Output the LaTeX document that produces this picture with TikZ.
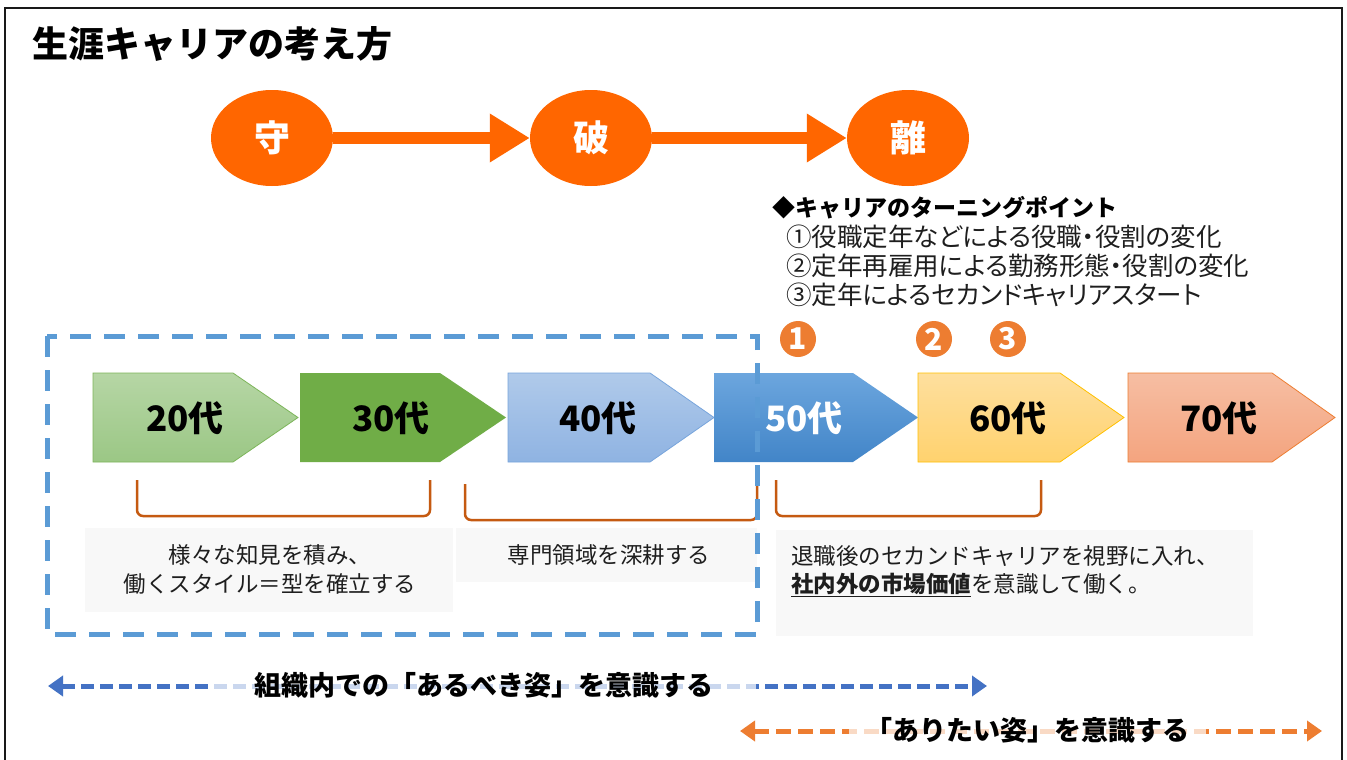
\documentclass[tikz,border=0pt]{standalone}
\usepackage{fontspec}
\setmainfont{Noto Sans CJK JP}
\newfontfamily\jpprop{Noto Sans CJK JP}[RawFeature=+palt]
\usetikzlibrary{arrows.meta,shapes.geometric}
\definecolor{kaki}{HTML}{FF6600}
\definecolor{numor}{HTML}{ED7D31}
\definecolor{brk}{HTML}{C55A11}
\definecolor{dashblue}{HTML}{5B9BD5}
\definecolor{arrblue}{HTML}{4472C4}
\definecolor{arror}{HTML}{ED7D31}
\definecolor{boxgray}{HTML}{F8F8F8}
\definecolor{txt}{HTML}{1E1E1E}
\begin{document}
\begin{tikzpicture}[x=1pt,y=-1pt,
  bigcirc/.style={ellipse, fill=kaki, minimum width=122pt, minimum height=96pt, inner sep=0pt, text=white, font=\fontsize{36}{36}\selectfont\bfseries},
  kakiarrow/.style={draw=kaki, line width=12pt, -{Triangle[length=40pt,width=46pt]}},
  numcirc/.style={circle, fill=numor, minimum size=36pt, inner sep=0pt, text=white, font=\fontsize{30}{30}\selectfont\bfseries},
  chevtext/.style={inner sep=0pt, font=\fontsize{35}{35}\selectfont\bfseries},
  bracket/.style={draw=brk, line width=2.5pt, rounded corners=6pt},
  graybox/.style={fill=boxgray, draw=none},
  boxtext/.style={inner sep=0pt, text=txt, font=\fontsize{22.5}{22.5}\selectfont},
  tptext/.style={inner sep=0pt, anchor=west, text=txt, font=\jpprop\fontsize{25.5}{25.5}\selectfont},
  labelbox/.style={fill=white, fill opacity=0.72, text opacity=1, inner sep=0pt, text=black, font=\fontsize{27}{27}\selectfont\bfseries}
]
\useasboundingbox (0,0) rectangle (1347,760);
\fill[white] (0,0) rectangle (1347,760);
% frame
\draw[line width=2pt, black!90] (5,762) -- (5,8) -- (1342,8) -- (1342,762);

% title
\node[anchor=west, inner sep=0pt, font=\fontsize{36}{36}\selectfont\bfseries] (title) at (32,44) {生涯キャリアの考え方};

% shu ha ri
\node[bigcirc] (shu) at (272,138) {守};
\node[bigcirc] (ha) at (591,138) {破};
\node[bigcirc] (ri) at (908,138) {離};
\draw[kakiarrow] (shu) -- (ha);
\draw[kakiarrow] (ha) -- (ri);

% turning points
\node[inner sep=0pt, anchor=west, text=black, font=\fontsize{23}{23}\selectfont\bfseries] (tph) at (772,208) {◆キャリアのターニングポイント};
\node[tptext] (tp1) at (786,237) {①役職定年などによる役職・役割の変化};
\node[tptext] (tp2) at (786,266) {②定年再雇用による勤務形態・役割の変化};
\node[tptext] (tp3) at (786,295) {③定年によるセカンドキャリアスタート};

% numbered circles
\node[numcirc] (n1) at (798,339) {1};
\node[numcirc] (n2) at (934,339) {2};
\node[numcirc] (n3) at (1008,339) {3};

% chevrons
\path[draw={rgb,255:red,125;green,181;blue,90}, line width=0.8pt, top color={rgb,255:red,182;green,214;blue,165}, bottom color={rgb,255:red,155;green,199;blue,133}]
  (93,373) -- (233,373) -- (298,417.5) -- (233,462) -- (93,462) -- cycle;
\path[fill={rgb,255:red,112;green,173;blue,71}]
  (300,373) -- (440,373) -- (506,417.5) -- (440,462) -- (300,462) -- cycle;
\path[draw={rgb,255:red,120;green,165;blue,220}, line width=0.8pt, top color={rgb,255:red,176;green,202;blue,234}, bottom color={rgb,255:red,143;green,179;blue,226}]
  (508,373) -- (650,373) -- (714,417.5) -- (650,462) -- (508,462) -- cycle;
\path[top color={rgb,255:red,108;green,166;blue,222}, bottom color={rgb,255:red,66;green,133;blue,200}]
  (714,373) -- (853,373) -- (918,417.5) -- (853,462) -- (714,462) -- cycle;
\path[draw={rgb,255:red,255;green,192;blue,0}, line width=0.8pt, top color={rgb,255:red,254;green,223;blue,158}, bottom color={rgb,255:red,255;green,210;blue,110}]
  (918,373) -- (1060,373) -- (1124,417.5) -- (1060,462) -- (918,462) -- cycle;
\path[draw={rgb,255:red,237;green,125;blue,49}, line width=0.8pt, top color={rgb,255:red,246;green,190;blue,163}, bottom color={rgb,255:red,244;green,164;blue,127}]
  (1128,373) -- (1272,373) -- (1335,417.5) -- (1272,462) -- (1128,462) -- cycle;
\node[chevtext] (c20) at (185,418) {20代};
\node[chevtext] (c30) at (391,418) {30代};
\node[chevtext] (c40) at (598,418) {40代};
\node[chevtext, text=white] (c50) at (804,418) {50代};
\node[chevtext] (c60) at (1008,418) {60代};
\node[chevtext] (c70) at (1219,418) {70代};

% brackets
\draw[bracket] (137,480) -- (137,516) -- (430,516) -- (430,480);
\draw[bracket] (465,484) -- (465,520) -- (757,520) -- (757,484);
\draw[bracket] (776,480) -- (776,516) -- (1041,516) -- (1041,480);

% gray text boxes
\fill[graybox] (85,528) rectangle (453,612);
\fill[graybox] (456,528) rectangle (757,582);
\fill[graybox] (776,530) rectangle (1253,636);
\node[boxtext] (t1a) at (270,555) {様々な知見を積み、};
\node[boxtext] (t1b) at (270,584) {働くスタイル＝型を確立する};
\node[boxtext] (t2) at (609,555) {専門領域を深耕する};
\node[boxtext, anchor=west] (t3a) at (791,556) {退職後のセカンドキャリアを視野に入れ、};
\node[boxtext, anchor=west] (t3b) at (791,585) {\underline{\bfseries 社内外の市場価値}を意識して働く。};

% blue dashed region
\draw[dashblue, line width=5pt, dash pattern=on 21pt off 13pt] (47,336) rectangle (757,634);

% bottom arrows
\coordinate (ba) at (48,686);
\coordinate (bb) at (987,686);
\draw[arrblue, line width=5pt, dash pattern=on 13pt off 6pt, {Triangle[length=15pt,width=20pt]}-{Triangle[length=15pt,width=20pt]}] (ba) -- (bb);
\node[labelbox, minimum width=543pt, minimum height=46pt] (lab1) at (484,685) {組織内での「あるべき姿」を意識する};
\coordinate (oa) at (740,731);
\coordinate (ob) at (1322,731);
\draw[arror, line width=5pt, dash pattern=on 15pt off 7pt, {Triangle[length=15pt,width=20pt]}-{Triangle[length=15pt,width=20pt]}] (oa) -- (ob);
\node[labelbox, minimum width=357pt, minimum height=43pt] (lab2) at (1027,730) {「ありたい姿」を意識する};
\end{tikzpicture}
\end{document}
